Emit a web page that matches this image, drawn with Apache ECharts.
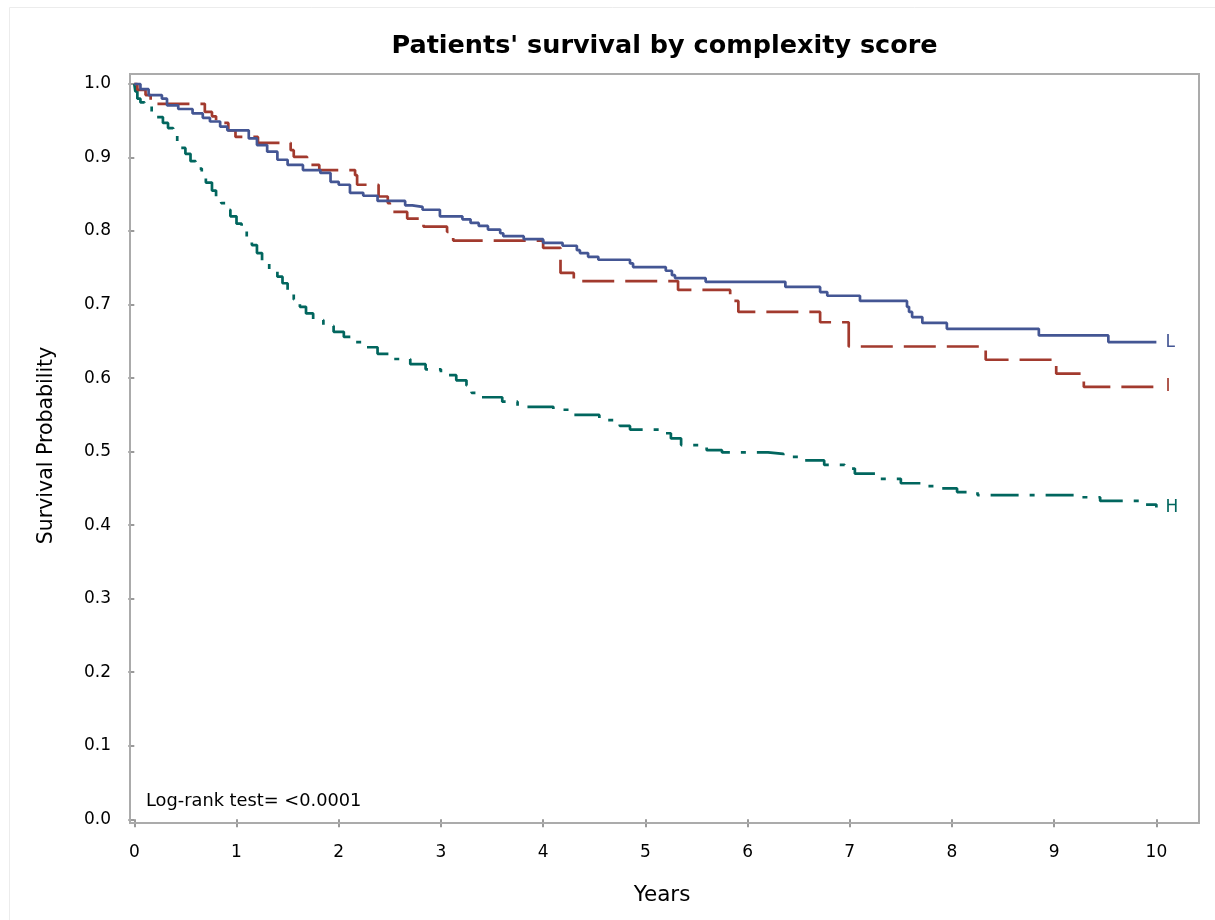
<!DOCTYPE html>
<html>
<head>
<meta charset="utf-8">
<script src="https://cdn.jsdelivr.net/npm/echarts@6/dist/echarts.min.js"></script>
<style>html,body{margin:0;padding:0;background:#fff}#c{width:1215px;height:920px}</style>
</head>
<body>
<div id="c"></div>
<script>
// ---- data (Kaplan-Meier step curves: time in years, survival probability) ----
const groupNames = ['L', 'I', 'H'];

const lTimes = [0, 0.06, 0.14, 0.27, 0.32, 0.43, 0.57, 0.67, 0.74, 0.84, 0.91, 1.12, 1.20, 1.30, 1.40, 1.50, 1.65, 1.82, 1.92, 2.00, 2.11, 2.24, 2.38, 2.65, 2.72, 2.82, 2.99, 3.21, 3.29, 3.37, 3.46, 3.58, 3.61, 3.81, 4.00, 4.19, 4.33, 4.36, 4.44, 4.54, 4.85, 4.88, 5.20, 5.26, 5.29, 5.59, 6.37, 6.71, 6.78, 7.10, 7.56, 7.58, 7.61, 7.71, 7.95, 8.85, 9.53, 10.0];
const lSurv  = [1.0, 0.993, 0.985, 0.980, 0.971, 0.966, 0.960, 0.954, 0.949, 0.942, 0.937, 0.926, 0.917, 0.908, 0.897, 0.890, 0.883, 0.879, 0.867, 0.863, 0.852, 0.848, 0.841, 0.835, 0.833, 0.829, 0.820, 0.816, 0.811, 0.807, 0.802, 0.797, 0.793, 0.789, 0.784, 0.780, 0.774, 0.770, 0.765, 0.761, 0.756, 0.751, 0.746, 0.740, 0.736, 0.731, 0.724, 0.717, 0.712, 0.705, 0.697, 0.690, 0.683, 0.675, 0.667, 0.658, 0.649, 0.649];

const iTimes = [0, 0.03, 0.11, 0.16, 0.22, 0.69, 0.76, 0.80, 0.92, 0.99, 1.21, 1.53, 1.56, 1.69, 1.81, 2.16, 2.18, 2.39, 2.48, 2.50, 2.67, 2.83, 3.06, 3.12, 4.00, 4.17, 4.30, 5.32, 5.83, 5.91, 6.71, 6.99, 8.33, 9.02, 9.29, 10.0];
const iSurv  = [1.0, 0.992, 0.985, 0.978, 0.973, 0.962, 0.956, 0.947, 0.937, 0.928, 0.920, 0.910, 0.901, 0.890, 0.883, 0.876, 0.863, 0.847, 0.838, 0.826, 0.817, 0.806, 0.799, 0.787, 0.777, 0.743, 0.732, 0.720, 0.705, 0.690, 0.676, 0.643, 0.625, 0.606, 0.588, 0.588];

const hTimes = [0, 0.01, 0.03, 0.06, 0.10, 0.17, 0.20, 0.28, 0.33, 0.38, 0.42, 0.45, 0.50, 0.55, 0.60, 0.66, 0.70, 0.76, 0.80, 0.85, 0.90, 0.94, 1.00, 1.05, 1.10, 1.15, 1.20, 1.25, 1.32, 1.40, 1.45, 1.50, 1.56, 1.62, 1.68, 1.75, 1.85, 1.95, 2.05, 2.15, 2.25, 2.38, 2.50, 2.70, 2.85, 3.00, 3.15, 3.25, 3.30, 3.40, 3.60, 3.75, 4.10, 4.25, 4.55, 4.75, 4.85, 5.15, 5.25, 5.35, 5.60, 5.75, 6.20, 6.35, 6.55, 6.75, 6.95, 7.05, 7.25, 7.50, 7.75, 7.90, 8.05, 8.25, 9.20, 9.45, 9.85, 10.0];
const hSurv  = [1.0, 0.990, 0.980, 0.975, 0.971, 0.962, 0.955, 0.947, 0.940, 0.930, 0.921, 0.913, 0.905, 0.895, 0.885, 0.876, 0.866, 0.855, 0.847, 0.838, 0.829, 0.820, 0.810, 0.800, 0.790, 0.781, 0.770, 0.758, 0.747, 0.738, 0.729, 0.718, 0.707, 0.697, 0.688, 0.679, 0.671, 0.663, 0.656, 0.649, 0.642, 0.633, 0.626, 0.619, 0.612, 0.604, 0.597, 0.590, 0.580, 0.574, 0.568, 0.561, 0.557, 0.550, 0.543, 0.535, 0.530, 0.525, 0.518, 0.509, 0.502, 0.499, 0.497, 0.493, 0.488, 0.482, 0.477, 0.470, 0.463, 0.457, 0.453, 0.450, 0.445, 0.441, 0.438, 0.433, 0.428, 0.424];

const xTicks = [0, 1, 2, 3, 4, 5, 6, 7, 8, 9, 10];
const yTicks = [0.0, 0.1, 0.2, 0.3, 0.4, 0.5, 0.6, 0.7, 0.8, 0.9, 1.0];

const titleText = "Patients' survival by complexity score";
const xName = 'Years';
const yName = 'Survival Probability';
const noteText = 'Log-rank test= <0.0001';

// ---- styles ----
const FONT = 'DejaVu Sans';
const colors = ['#445694', '#A23A2E', '#01665E'];
const dashes = ['solid', [32, 11], [28, 11, 5, 11]];
const frameColor = '#ababab';
const tickColor = '#9a9a9a';

function pairs(t, s) { return t.map((v, i) => [v, s[i]]); }
const seriesData = [pairs(lTimes, lSurv), pairs(iTimes, iSurv), pairs(hTimes, hSurv)];

const chart = echarts.init(document.getElementById('c'), null, { renderer: 'canvas' });

const option = {
  animation: false,
  backgroundColor: '#ffffff',
  textStyle: { fontFamily: FONT },
  grid: { left: 125, right: 16, top: 74, bottom: 95, show: false },
  xAxis: {
    type: 'value', min: -0.091, max: 10.417,
    name: xName, nameLocation: 'middle', nameGap: 59,
    nameTextStyle: { fontFamily: FONT, fontSize: 21.5, color: '#000' },
    axisLine: { show: false },
    axisTick: { show: true, inside: false, length: 8, customValues: xTicks, lineStyle: { color: tickColor, width: 2 } },
    axisLabel: { customValues: xTicks, margin: 19, fontFamily: FONT, fontSize: 17, color: '#000', formatter: v => String(v) },
    splitLine: { show: false }
  },
  yAxis: {
    type: 'value', min: -0.00775, max: 1.0136,
    name: yName, nameLocation: 'middle', nameGap: 68, nameRotate: 90,
    nameTextStyle: { fontFamily: FONT, fontSize: 20.5, color: '#000', padding: [0, 0, 0, 8] },
    axisLine: { show: false },
    axisTick: { show: true, inside: false, length: 6, customValues: yTicks, lineStyle: { color: tickColor, width: 2 } },
    axisLabel: { customValues: yTicks, margin: 14, fontFamily: FONT, fontSize: 17, color: '#000', formatter: v => v.toFixed(1) },
    splitLine: { show: false }
  },
  series: groupNames.map((g, k) => ({
    name: g,
    type: 'line',
    step: 'end',
    data: seriesData[k],
    showSymbol: false,
    symbol: 'none',
    clip: true,
    lineStyle: { color: colors[k], width: 2.7, type: dashes[k] },
    itemStyle: { color: colors[k] },
    endLabel: { show: true, formatter: g, color: colors[k], fontFamily: FONT, fontSize: 17, distance: 9 },
    z: 3 - k
  })),
  graphic: [
    { type: 'rect', shape: { x: 9.5, y: 7.5, width: 1220, height: 930 }, style: { fill: 'none', stroke: '#ececec', lineWidth: 1 }, silent: true, z: -10 },
    { type: 'rect', shape: { x: 130, y: 74, width: 1069, height: 749 }, style: { fill: 'none', stroke: frameColor, lineWidth: 2 }, silent: true, z: 1 },
    { type: 'text', x: 664.5, y: 46, style: { text: titleText, fontFamily: FONT, fontSize: 25.5, fontWeight: 'bold', fill: '#000', textAlign: 'center', textVerticalAlign: 'middle' } },
    { type: 'text', x: 146, y: 801, style: { text: noteText, fontFamily: FONT, fontSize: 17.8, fill: '#000', textAlign: 'left', textVerticalAlign: 'middle' } }
  ]
};
chart.setOption(option);
</script>
</body>
</html>
